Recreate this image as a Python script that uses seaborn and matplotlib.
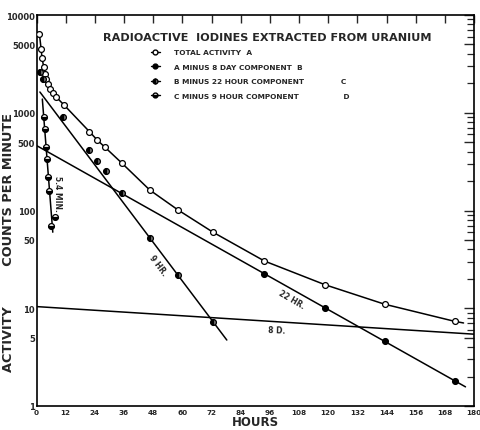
import numpy as np
import pandas as pd
import matplotlib
matplotlib.use("Agg")
import matplotlib.pyplot as plt
import seaborn as sns
from matplotlib.lines import Line2D
from matplotlib.ticker import FixedLocator, NullFormatter

# ---- data ----
total_hours = [1.2, 1.9, 2.3, 3.0, 3.7, 4.1, 4.7, 5.5, 6.7, 8.2, 11.2, 21.8, 25.0,
               28.2, 35.2, 46.6, 58.3, 72.6, 93.8, 118.7, 143.2, 172.0]
total_counts = [6400, 4490, 3600, 2920, 2480, 2210, 1970, 1750, 1590, 1440, 1210,
                640, 525, 443, 304, 162, 101, 60, 30.4, 17.4, 11.0, 7.35]
total_curve_end_hours = [175.7]
total_curve_end_counts = [7.07]

b_hours = [93.8, 118.7, 143.2, 172.0]
b_counts = [22.4, 10.0, 4.6, 1.8]

c_hours = [1.6, 2.8, 10.8, 21.5, 24.7, 28.4, 35.0, 46.6, 58.3, 72.6]
c_counts = [2600, 2200, 898, 419, 324, 255, 150, 52, 21.9, 7.2]

d_hours = [3.0, 3.4, 4.0, 4.4, 4.7, 5.1, 6.0, 7.8]
d_counts = [897, 682, 443, 336, 222, 157, 70, 85]

eight_day_hours = [0, 180]
eight_day_counts = [10.4, 5.43]
hr22_hours = [0, 176.5]
hr22_counts = [462, 1.57]
hr9_hours = [1.4, 78.3]
hr9_counts = [1630, 4.73]
min54_hours = [2.4, 6.7]
min54_counts = [1380, 60]

x_ticks = list(range(0, 181, 12))
y_ticks = [1, 5, 10, 50, 100, 500, 1000, 5000, 10000]
y_tick_labels = ["1", "5", "10", "50", "100", "500", "1000", "5000", "10000"]

legend_labels = ["TOTAL ACTIVITY  A",
                 "A MINUS 8 DAY COMPONENT  B",
                 "B MINUS 22 HOUR COMPONENT              C",
                 "C MINUS 9 HOUR COMPONENT                 D"]

# ---- figure ----
sns.set_style("white")
plt.rcParams["font.family"] = ["DejaVu Sans"]
fig = plt.figure(figsize=(4.8, 4.31), dpi=100)
ax = fig.add_axes([36.5 / 480, 1 - 407 / 431, 437.5 / 480, 391 / 431])

lw = 1.1
ms = 4.2

curve_df = pd.DataFrame({"h": total_hours + total_curve_end_hours,
                         "c": total_counts + total_curve_end_counts})
sns.lineplot(data=curve_df, x="h", y="c", ax=ax, color="black", lw=lw, sort=True)

for hx, cy in [(eight_day_hours, eight_day_counts), (hr22_hours, hr22_counts),
               (hr9_hours, hr9_counts), (min54_hours, min54_counts)]:
    sns.lineplot(x=hx, y=cy, ax=ax, color="black", lw=lw)

ax.plot(total_hours, total_counts, ls="none", marker="o", ms=ms, mfc="white",
        mec="black", mew=0.9, zorder=5)
ax.plot(b_hours, b_counts, ls="none", marker="o", ms=ms, mfc="black",
        mec="black", mew=0.9, zorder=5)
ax.plot(c_hours, c_counts, ls="none", marker="o", ms=ms, mfc="black",
        mfcalt="#777777", fillstyle="left", mec="black", mew=0.9, zorder=5)
ax.plot(d_hours, d_counts, ls="none", marker="o", ms=ms, mfc="black",
        mfcalt="white", fillstyle="bottom", mec="black", mew=0.9, zorder=5)

ax.set_yscale("log")
ax.set_xlim(0, 180)
ax.set_ylim(1, 10000)

ax.set_xticks(x_ticks)
ax.set_xticklabels([str(t) for t in x_ticks], fontsize=5.2, fontweight="bold")
ax.yaxis.set_major_locator(FixedLocator(y_ticks))
ax.set_yticklabels(y_tick_labels, fontsize=6, fontweight="bold")
minor = [m * 10 ** e for e in range(0, 4) for m in range(2, 10) if m != 5]
ax.yaxis.set_minor_locator(FixedLocator(minor))
ax.yaxis.set_minor_formatter(NullFormatter())
ax.tick_params(axis="x", which="major", direction="in", top=True, length=6,
               width=1.0, pad=2)
ax.tick_params(axis="y", which="major", direction="in", right=True, length=7,
               width=1.0, pad=1)
ax.tick_params(axis="y", which="minor", direction="in", right=True, length=5,
               width=0.9)
for s in ax.spines.values():
    s.set_linewidth(1.2)
    s.set_color("black")

ax.set_xlabel("HOURS", fontsize=8.5, fontweight="bold", labelpad=0)
ax.set_ylabel("ACTIVITY         COUNTS PER MINUTE", fontsize=9.3, fontweight="bold")
ax.yaxis.set_label_coords(-0.049, 0.42)

ax.text(0.528, 0.944, "RADIOACTIVE  IODINES EXTRACTED FROM URANIUM",
        transform=ax.transAxes, ha="center", va="center", fontsize=8.1,
        fontweight="bold")

ax.text(8.6, 150, "5.4 MIN.", rotation=-90, fontsize=5.5, fontweight="bold",
        ha="center", va="center")
ax.text(50.0, 28, "9 HR.", rotation=-53, fontsize=5.5, fontweight="bold",
        ha="center", va="center")
ax.text(105, 12.4, "22 HR.", rotation=-30, fontsize=5.5, fontweight="bold",
        ha="center", va="center")
ax.text(99, 6.0, "8 D.", rotation=-2, fontsize=5.5, fontweight="bold",
        ha="center", va="center")

handles = [
    Line2D([], [], color="black", lw=1, marker="o", ms=3.5, mfc="white", mec="black"),
    Line2D([], [], color="black", lw=1, marker="o", ms=3.5, mfc="black", mec="black"),
    Line2D([], [], color="black", lw=1, marker="o", ms=3.5, mfc="black",
           mfcalt="#777777", fillstyle="left", mec="black"),
    Line2D([], [], color="black", lw=1, marker="o", ms=3.5, mfc="black",
           mfcalt="white", fillstyle="bottom", mec="black"),
]
leg = ax.legend(handles, legend_labels, loc="upper left",
                bbox_to_anchor=((151 - 36.5) / 437.5, (407 - 50) / 391),
                frameon=False, handlelength=1.2, handletextpad=1.9,
                labelspacing=1.15, prop={"size": 5.3, "weight": "bold"},
                borderaxespad=0, borderpad=0)

fig.savefig("out.png", dpi=100)
